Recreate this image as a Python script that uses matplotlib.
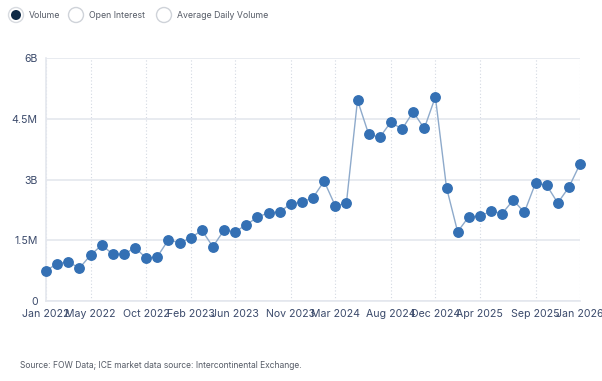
import matplotlib
matplotlib.use("Agg")
import matplotlib.pyplot as plt
from matplotlib.patches import Circle

plt.rcParams['font.family'] = ['Inter', 'DejaVu Sans']

# monthly volume, Jan 2022 .. Jan 2026 (same units as the axis)
volume = [0.75, 0.92, 0.97, 0.81, 1.13, 1.38, 1.16, 1.15, 1.32, 1.06,
          1.09, 1.51, 1.44, 1.55, 1.75, 1.34, 1.75, 1.71, 1.88, 2.07,
          2.18, 2.20, 2.40, 2.44, 2.55, 2.96, 2.35, 2.41, 4.96, 4.12,
          4.04, 4.42, 4.24, 4.67, 4.26, 5.04, 2.80, 1.71, 2.08, 2.09,
          2.22, 2.16, 2.49, 2.19, 2.91, 2.86, 2.42, 2.81, 3.38]

tick_idx = [0, 4, 9, 13, 17, 22, 26, 31, 35, 39, 44, 48]
tick_labels = ['Jan 2022', 'May 2022', 'Oct 2022', 'Feb 2023', 'Jun 2023',
               'Nov 2023', 'Mar 2024', 'Aug 2024', 'Dec 2024', 'Apr 2025',
               'Sep 2025', 'Jan 2026']
y_ticks = [0, 1.5, 3, 4.5, 6]
y_labels = ['0', '1.5M', '3B', '4.5M', '6B']

legend_items = ['Volume', 'Open Interest', 'Average Daily Volume']

W, H = 602, 381
fig = plt.figure(figsize=(W / 100, H / 100), dpi=100)
ax = fig.add_axes([46 / W, 1 - 301 / H, (580 - 46) / W, (301 - 58) / H])

grid_col = '#e4e7ee'
txt_col = '#3b4a6b'

ax.plot(range(len(volume)), volume, color='#8eaacb', lw=1.0, zorder=3,
        marker='o', markersize=6.8, markerfacecolor='#3470b4',
        markeredgecolor='#3470b4', clip_on=False)

ax.set_xlim(0, len(volume) - 1)
ax.set_ylim(0, 6)
ax.set_xticks(tick_idx)
ax.set_xticklabels(tick_labels)
ax.set_yticks(y_ticks)
ax.set_yticklabels(y_labels)
ax.tick_params(axis='both', length=0, labelsize=7.6, labelcolor=txt_col)
ax.tick_params(axis='x', pad=6)
ax.tick_params(axis='y', pad=6)

ax.grid(axis='y', color=grid_col, lw=1.2, zorder=0)
ax.grid(axis='x', color='#d3d8e2', lw=0.8, ls=(0, (1, 2)), zorder=0)
for s in ['top', 'right']:
    ax.spines[s].set_visible(False)
for s in ['left', 'bottom']:
    ax.spines[s].set_color(grid_col)
    ax.spines[s].set_linewidth(1.2)

# radio-style legend across the top
lg = fig.add_axes([0, 0, 1, 1])
lg.set_xlim(0, W)
lg.set_ylim(H, 0)
lg.axis('off')
lg.patch.set_visible(False)
cx = [16, 76, 164]
for i, (x, name) in enumerate(zip(cx, legend_items)):
    if i == 0:
        lg.add_patch(Circle((x, 15), 7.5, fc='white', ec='#d8dbe0', lw=1.0))
        lg.add_patch(Circle((x, 15), 5.0, fc='#0f2a46', ec='none'))
    else:
        lg.add_patch(Circle((x, 15), 7.5, fc='white', ec='#cfd3d9', lw=1.0))
    lg.text(x + 13, 15, name, fontsize=6.3, color='#555b66', va='center', ha='left')

fig.text(20 / W, 1 - 365 / H, 'Source: FOW Data; ICE market data source: Intercontinental Exchange.',
         fontsize=6.1, color='#555b66', va='center', ha='left')

fig.savefig('out.png', dpi=100)
